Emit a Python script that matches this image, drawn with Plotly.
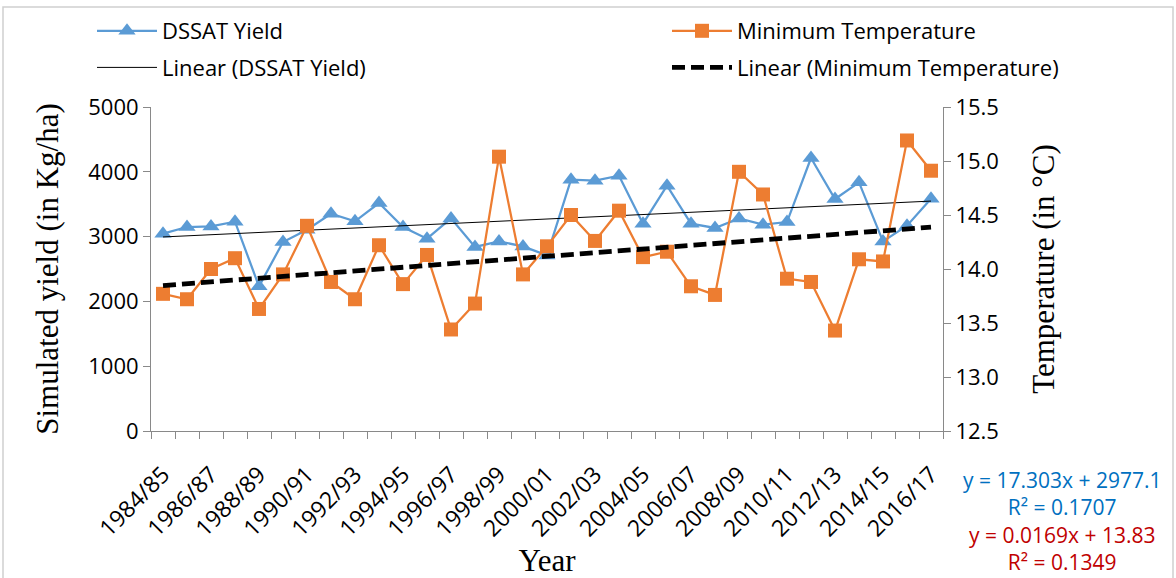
import plotly.graph_objects as go

# ---------------- data ----------------
seasons = ["1984/85", "1985/86", "1986/87", "1987/88", "1988/89", "1989/90", "1990/91",
           "1991/92", "1992/93", "1993/94", "1994/95", "1995/96", "1996/97", "1997/98",
           "1998/99", "1999/00", "2000/01", "2001/02", "2002/03", "2003/04", "2004/05",
           "2005/06", "2006/07", "2007/08", "2008/09", "2009/10", "2010/11", "2011/12",
           "2012/13", "2013/14", "2014/15", "2015/16", "2016/17"]
season_index = list(range(1, len(seasons) + 1))

dssat_yield = [3045, 3148, 3157, 3230, 2232, 2917, 3106, 3353, 3235, 3518,
               3148, 2968, 3281, 2840, 2926, 2849, 2710, 3878, 3863, 3940,
               3199, 3786, 3199, 3133, 3281, 3184, 3225, 4213, 3580, 3837,
               2926, 3168, 3585]

min_temperature = [13.77, 13.72, 14.00, 14.10, 13.63, 13.95, 14.40, 13.88, 13.72, 14.22,
                   13.86, 14.13, 13.44, 13.68, 15.04, 13.95, 14.21, 14.50, 14.26, 14.54,
                   14.11, 14.16, 13.84, 13.76, 14.90, 14.69, 13.91, 13.88, 13.43, 14.09,
                   14.07, 15.19, 14.91]

# trend line coefficients (as printed on the chart)
yield_slope, yield_intercept, yield_r2 = 17.303, 2977.1, 0.1707
temp_slope, temp_intercept, temp_r2 = 0.0169, 13.83, 0.1349

yield_trend = [yield_slope * x + yield_intercept for x in season_index]
temp_trend = [temp_slope * x + temp_intercept for x in season_index]

# ---------------- layout constants ----------------
W, H = 1176, 578
ML, MR, MT, MB = 151, 233, 107, 147
PW, PH = W - ML - MR, H - MT - MB


def px_x(px):
    return (px - ML) / PW


def px_y(py):
    return (H - MB - py) / PH


BLUE = "#5B9BD5"
ORANGE = "#ED7D31"
AXIS = "#898989"
SANS = "Open Sans"
SERIF = "Liberation Serif"
EQ_BLUE = "#0070C0"
EQ_RED = "#C00000"

fig = go.Figure()

fig.add_trace(go.Scatter(
    x=season_index, y=dssat_yield, name="DSSAT Yield", mode="lines+markers",
    line=dict(color=BLUE, width=2.25),
    marker=dict(symbol="triangle-up", size=15, color=BLUE),
    legend="legend", legendgroup="a", yaxis="y"))

fig.add_trace(go.Scatter(
    x=season_index, y=min_temperature, name="Minimum Temperature", mode="lines+markers",
    line=dict(color=ORANGE, width=2.25),
    marker=dict(symbol="square", size=14, color=ORANGE),
    legend="legend2", legendgroup="c", yaxis="y2"))

fig.add_trace(go.Scatter(
    x=season_index, y=yield_trend, name="Linear (DSSAT Yield)", mode="lines",
    line=dict(color="black", width=1),
    legend="legend", legendgroup="b", yaxis="y"))

fig.add_trace(go.Scatter(
    x=season_index, y=temp_trend, name="Linear (Minimum Temperature)", mode="lines",
    line=dict(color="black", width=4.8, dash="13px,6px"),
    legend="legend2", legendgroup="d", yaxis="y2"))

fig.update_layout(
    width=W, height=H,
    margin=dict(l=ML, r=MR, t=MT, b=MB, autoexpand=False),
    paper_bgcolor="white", plot_bgcolor="white",
    font=dict(family=SANS, size=22, color="black"),
    xaxis=dict(
        range=[0.5, len(seasons) + 0.5],
        tickmode="array", tickvals=season_index[::2], ticktext=seasons[::2],
        tickangle=-45, ticks="", showgrid=False, zeroline=False,
        showline=True, linecolor=AXIS, linewidth=1,
        tickfont=dict(family=SANS, size=23), ticklabelstandoff=20,
        minor=dict(tickmode="array",
                   tickvals=[x - 0.5 for x in season_index] + [season_index[-1] + 0.5],
                   ticks="outside", ticklen=7, tickcolor=AXIS, showgrid=False),
        title=dict(text="Year", font=dict(family=SERIF, size=31), standoff=12),
    ),
    yaxis=dict(
        range=[0, 5000], dtick=1000, ticks="outside", ticklen=7, tickcolor=AXIS,
        showline=True, linecolor=AXIS, linewidth=1, showgrid=False, zeroline=False,
        tickfont=dict(family=SANS, size=22),
        title=dict(text="Simulated yield (in Kg/ha)", font=dict(family=SERIF, size=31), standoff=20),
    ),
    yaxis2=dict(
        range=[12.5, 15.5], dtick=0.5, tickformat=".1f", overlaying="y", side="right",
        ticks="outside", ticklen=7, tickcolor=AXIS,
        showline=True, linecolor=AXIS, linewidth=1, showgrid=False, zeroline=False,
        tickfont=dict(family=SANS, size=22),
        title=dict(text="Temperature (in °C)", font=dict(family=SERIF, size=31), standoff=34),
    ),
    legend=dict(x=px_x(92), y=px_y(10), xanchor="left", yanchor="top",
                orientation="v", traceorder="grouped", tracegroupgap=5,
                itemwidth=60, font=dict(family=SANS, size=22), bgcolor="rgba(0,0,0,0)"),
    legend2=dict(x=px_x(667), y=px_y(10), xanchor="left", yanchor="top",
                 orientation="v", traceorder="grouped", tracegroupgap=5,
                 itemwidth=60, font=dict(family=SANS, size=22), bgcolor="rgba(0,0,0,0)"),
    showlegend=True,
)

# outer chart border
fig.add_shape(type="rect", xref="paper", yref="paper",
              x0=px_x(3), x1=px_x(1173), y0=px_y(600), y1=px_y(7),
              line=dict(color="#D0D0D0", width=1.5), fillcolor="rgba(0,0,0,0)", layer="below")

# trend equations (one text block, coloured per trend)
eq_text = (
    f"<span style='color:{EQ_BLUE}'>y = {yield_slope}x + {yield_intercept}</span><br>"
    f"<span style='color:{EQ_BLUE}'>R² = {yield_r2}</span><br>"
    f"<span style='color:{EQ_RED}'>y = {temp_slope}x + {temp_intercept}</span><br>"
    f"<span style='color:{EQ_RED}'>R² = {temp_r2}</span>"
)
fig.add_annotation(text=eq_text, xref="paper", yref="paper", x=px_x(1062), y=px_y(521),
                   xanchor="center", yanchor="middle", align="center", showarrow=False,
                   font=dict(family=SANS, size=21))

fig.write_html("out.html")
